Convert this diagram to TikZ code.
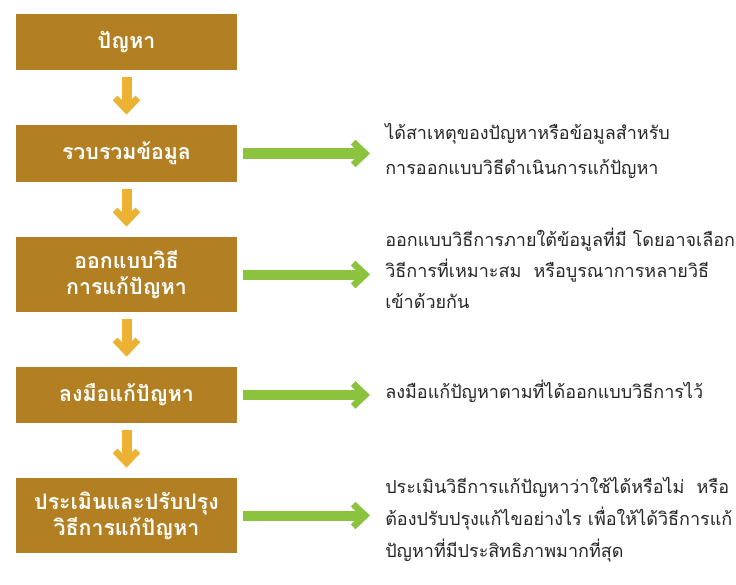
\documentclass[tikz,border=0pt]{standalone}
\usepackage{fontspec}
\newfontfamily\thaifont[Script=Thai]{Loma}
\usetikzlibrary{arrows.meta}
\definecolor{boxgold}{RGB}{178,128,34}
\definecolor{arrowyellow}{RGB}{235,178,52}
\definecolor{arrowgreen}{RGB}{139,195,63}
\definecolor{notegray}{RGB}{38,38,38}

\begin{document}
\begin{tikzpicture}[x=0.75pt,y=0.75pt,yscale=-1,
  stepbox/.style={fill=boxgold, text=white, minimum width=165.75pt, inner sep=0pt, align=center,
    font=\thaifont\bfseries\fontsize{16}{19.5}\selectfont},
  note/.style={anchor=west, inner sep=0pt, align=left, text=notegray,
    font=\thaifont\fontsize{13.5}{24}\selectfont},
  downarrow/.style={draw=arrowyellow, line width=7.5pt,
    -{Straight Barb[length=9pt,width=17pt,line width=5pt]}, shorten <=5.25pt, shorten >=7.5pt},
  rightarrow/.style={draw=arrowgreen, line width=7.5pt,
    -{Straight Barb[length=9pt,width=17pt,line width=5pt]}, shorten <=4.5pt, shorten >=11.25pt}]
\useasboundingbox (0,0) rectangle (736,585);

% Step boxes
\node [stepbox, minimum height=42pt] (problem) at (126.5,42) {ปัญหา};
\node [stepbox, minimum height=42.75pt] (collect) at (126.5,153.5) {รวบรวมข้อมูล};
\node [stepbox, minimum height=56.25pt] (design) at (126.5,274.5) {ออกแบบวิธี\\การแก้ปัญหา};
\node [stepbox, minimum height=42pt] (act) at (126.5,395) {ลงมือแก้ปัญหา};
\node [stepbox, minimum height=56.25pt] (evaluate) at (126.5,515.5) {ประเมินและปรับปรุง\\วิธีการแก้ปัญหา};

% Notes
\node [note, font=\thaifont\fontsize{13.5}{26}\selectfont] (collectnote) at (385,151)
  {ได้สาเหตุของปัญหาหรือข้อมูลสำหรับ\\การออกแบบวิธีดำเนินการแก้ปัญหา};
\node [note, font=\thaifont\fontsize{13.5}{23.25}\selectfont] (designnote) at (385,268)
  {ออกแบบวิธีการภายใต้ข้อมูลที่มี โดยอาจเลือก\\วิธีการที่เหมาะสม\ \ หรือบูรณาการหลายวิธี\\เข้าด้วยกัน};
\node [note] (actnote) at (385,391) {ลงมือแก้ปัญหาตามที่ได้ออกแบบวิธีการไว้};
\node [note] (evaluatenote) at (385,520)
  {ประเมินวิธีการแก้ปัญหาว่าใช้ได้หรือไม่\ \ หรือ\\ต้องปรับปรุงแก้ไขอย่างไร เพื่อให้ได้วิธีการแก้\\ปัญหาที่มีประสิทธิภาพมากที่สุด};

% Flow arrows
\draw [downarrow] (problem) -- (collect);
\draw [downarrow] (collect) -- (design);
\draw [downarrow] (design) -- (act);
\draw [downarrow] (act) -- (evaluate);

% Result arrows
\draw [rightarrow] (collect.east) -- (collect.east -| collectnote.west);
\draw [rightarrow] (design.east) -- (design.east -| designnote.west);
\draw [rightarrow] (act.east) -- (act.east -| actnote.west);
\draw [rightarrow] (evaluate.east) -- (evaluate.east -| evaluatenote.west);
\end{tikzpicture}
\end{document}
